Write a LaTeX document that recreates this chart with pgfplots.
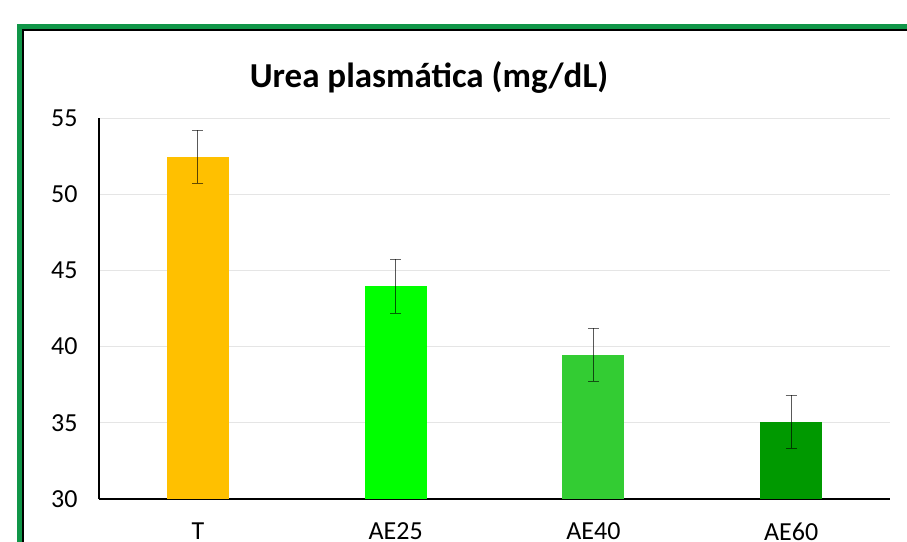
\documentclass[border=0pt]{standalone}
\usepackage{pgfplots}
\pgfplotsset{compat=1.18}
\usepackage{fontspec}
\setmainfont{Carlito}
\definecolor{framegreen}{RGB}{16,150,72}
\definecolor{cT}{RGB}{255,192,0}
\definecolor{cA}{RGB}{0,255,0}
\definecolor{cB}{RGB}{51,204,51}
\definecolor{cC}{RGB}{0,153,0}
\begin{document}
\begin{tikzpicture}[x=1pt,y=1pt]
\useasboundingbox (0,0) rectangle (907,541);
\begin{scope}
\clip (0,0) rectangle (907,541);
\draw[framegreen, line width=5pt] (19.5,514.5) rectangle (1000,-50);
\draw[black, line width=1.5pt] (22.75,510.75) rectangle (1000,-50);
\end{scope}
\node[font=\bfseries\fontsize{35}{35}\selectfont] at (429,464) {Urea plasmática (mg/dL)};
\begin{axis}[at={(99pt,42pt)}, anchor=south west, scale only axis,
  width=791pt, height=381pt,
  xmin=-0.5, xmax=3.5, ymin=30, ymax=55,
  ytick={30,35,...,55},
  xtick={0,1,2,3}, xticklabels={T,AE25,AE40,AE60},
  axis lines*=left,
  axis line style={line width=1.5pt, black},
  ymajorgrids, grid style={black!10, line width=0.75pt},
  major tick length=0pt,
  tick label style={font=\fontsize{26}{26}\selectfont},
  /pgf/number format/assume math mode=true,
  yticklabel style={anchor=east, xshift=-18pt},
  xticklabel style={anchor=north, yshift=-20pt},
  ybar, bar width=62pt, bar shift=0pt,
  error bars/error bar style={black, draw opacity=0.6, line width=0.8pt},
  error bars/error mark options={black, draw opacity=0.6, rotate=90, mark size=5.5pt, line width=0.8pt},
  clip=false,
]
\addplot[fill=cT, draw=none, error bars/.cd, y dir=both, y explicit] coordinates {(0,52.47) +- (0,1.74)};
\addplot[fill=cA, draw=none, error bars/.cd, y dir=both, y explicit] coordinates {(1,43.97) +- (0,1.77)};
\addplot[fill=cB, draw=none, error bars/.cd, y dir=both, y explicit] coordinates {(2,39.48) +- (0,1.74)};
\addplot[fill=cC, draw=none, error bars/.cd, y dir=both, y explicit] coordinates {(3,35.08) +- (0,1.74)};
\end{axis}
\end{tikzpicture}
\end{document}
